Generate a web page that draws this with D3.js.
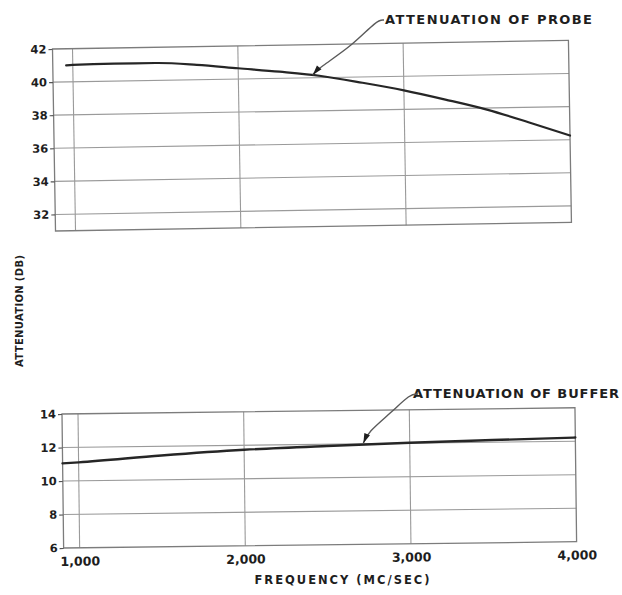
<!DOCTYPE html>
<html>
<head>
<meta charset="utf-8">
<script src="https://cdn.jsdelivr.net/npm/d3@7"></script>
<style>
  html, body { margin: 0; padding: 0; background: #fff; }
  svg text { font-family: "DejaVu Sans", "Liberation Sans", sans-serif; font-weight: bold; fill: #1e1e1e; }
</style>
</head>
<body>
<svg id="chart" width="622" height="595"></svg>
<script>
// Frequency axis (MC/SEC)
const freqTicks = [1000, 2000, 3000, 4000];
const freqLabels = ["1,000", "2,000", "3,000", "4,000"];

// Upper panel: attenuation of probe (DB)
const probeTicks = [32, 34, 36, 38, 40, 42];
const probeFreq = [960, 1000, 1250, 1500, 1750, 2000, 2250, 2500, 2750, 3000, 3250, 3500, 3750, 4000];
const probeDb   = [41.0, 41.02, 41.05, 41.05, 40.9, 40.65, 40.4, 40.1, 39.65, 39.15, 38.55, 37.9, 37.1, 36.25];

// Lower panel: attenuation of buffer (DB)
const bufferTicks = [6, 8, 10, 12, 14];
const bufferFreq = [903, 1000, 1500, 2000, 2500, 3000, 3500, 4000];
const bufferDb   = [11.05, 11.1, 11.45, 11.73, 11.9, 12.03, 12.13, 12.22];

const svg = d3.select("#chart");

function panel(opts) {
  const g = svg.append("g")
    .attr("transform", `translate(${opts.x},${opts.y}) rotate(${opts.tilt})`);
  const x = d3.scaleLinear().domain(opts.xDomain).range([0, opts.w]);
  const y = d3.scaleLinear().domain(opts.yDomain).range([opts.h, 0]);

  // grid
  g.append("g").selectAll("line")
    .data(freqTicks.filter(f => f < opts.xDomain[1]))
    .join("line")
    .attr("x1", d => x(d)).attr("x2", d => x(d))
    .attr("y1", 0).attr("y2", opts.h)
    .attr("stroke", "#9a9a9a").attr("stroke-width", 1.1);
  g.append("g").selectAll("line")
    .data(opts.yTicks.filter(t => t > opts.yDomain[0] && t < opts.yDomain[1]))
    .join("line")
    .attr("x1", 0).attr("x2", opts.w)
    .attr("y1", d => y(d)).attr("y2", d => y(d))
    .attr("stroke", "#9a9a9a").attr("stroke-width", 1.1);

  // frame
  g.append("rect")
    .attr("x", 0).attr("y", 0).attr("width", opts.w).attr("height", opts.h)
    .attr("fill", "none").attr("stroke", "#7c7c7c").attr("stroke-width", 1.3);

  // y axis
  const ay = g.append("g")
    .call(d3.axisLeft(y).tickValues(opts.yTicks).tickSize(4).tickSizeOuter(0).tickPadding(2));
  ay.select(".domain").remove();
  ay.selectAll(".tick line").attr("stroke", "#555").attr("stroke-width", 1.2);
  ay.selectAll(".tick text").style("font-size", "11.5px").attr("fill", "#1e1e1e");

  // data line
  const pts = opts.freq.map((f, i) => [f, opts.db[i]]);
  g.append("path")
    .datum(pts)
    .attr("fill", "none")
    .attr("stroke", "#262626")
    .attr("stroke-width", opts.lineW)
    .attr("stroke-linecap", "round")
    .attr("d", d3.line().x(d => x(d[0])).y(d => y(d[1])).curve(d3.curveMonotoneX));

  // page position of a (freq, db) point inside this tilted panel
  const toPage = (f, db) => {
    const a = opts.tilt * Math.PI / 180;
    const px = x(f), py = y(db);
    return [opts.x + px * Math.cos(a) - py * Math.sin(a),
            opts.y + px * Math.sin(a) + py * Math.cos(a)];
  };
  return { g, x, y, toPage };
}

const probePanel = panel({
  x: 52.5, y: 49, tilt: -0.95, w: 516, h: 182,
  xDomain: [879, 4000], yDomain: [31, 42], yTicks: probeTicks,
  freq: probeFreq, db: probeDb, lineW: 2.2
});

const bufferPanel = panel({
  x: 62, y: 414, tilt: -0.7, w: 513, h: 134,
  xDomain: [903.4, 4000], yDomain: [6, 14], yTicks: bufferTicks,
  freq: bufferFreq, db: bufferDb, lineW: 2.4
});

// frequency labels under the lower panel
const ax = bufferPanel.g.append("g")
  .attr("transform", `translate(0,${134})`)
  .call(d3.axisBottom(bufferPanel.x).tickValues(freqTicks)
    .tickFormat((d, i) => freqLabels[i]).tickSize(0).tickPadding(9));
ax.select(".domain").remove();
ax.selectAll(".tick text").style("font-size", "12.5px").attr("fill", "#1e1e1e");

// axis titles
svg.append("text")
  .attr("x", 342).attr("y", 584)
  .attr("text-anchor", "middle")
  .attr("textLength", 175).attr("lengthAdjust", "spacing")
  .style("font-size", "11.5px")
  .text("FREQUENCY  (MC/SEC)");

svg.append("text")
  .attr("transform", "translate(23,311) rotate(-90)")
  .attr("text-anchor", "middle")
  .attr("textLength", 112).attr("lengthAdjust", "spacing")
  .style("font-size", "10px")
  .text("ATTENUATION  (DB)");

// callouts with leader arrows
function callout(label, tx, ty, len, path) {
  svg.append("text")
    .attr("x", tx).attr("y", ty)
    .attr("textLength", len).attr("lengthAdjust", "spacing")
    .style("font-size", "13px")
    .text(label);
  svg.append("path")
    .attr("d", d3.line().curve(d3.curveBasis)(path))
    .attr("fill", "none").attr("stroke", "#5a5a5a").attr("stroke-width", 1.4);
  // arrowhead along the last leader segment
  const p = path[path.length - 1];
  const q = path[path.length - 2];
  const ang = Math.atan2(p[1] - q[1], p[0] - q[0]);
  const L = 10, Wd = 3;
  const bx = p[0] - L * Math.cos(ang), by = p[1] - L * Math.sin(ang);
  const nx = -Math.sin(ang) * Wd, ny = Math.cos(ang) * Wd;
  svg.append("path")
    .attr("d", `M${p[0]},${p[1]} L${bx + nx},${by + ny} L${bx - nx},${by - ny} Z`)
    .attr("fill", "#1e1e1e");
}

// probe callout points at the curve near 2,450 MC
const probeTip = probePanel.toPage(2450, 40.17);
callout("ATTENUATION OF PROBE", 385, 24, 207,
  [[384, 20], [377, 20], [352, 46], [probeTip[0] + 6, probeTip[1] - 7], probeTip]);

// buffer callout points at the curve near 2,720 MC
const bufTip = bufferPanel.toPage(2720, 11.97);
callout("ATTENUATION OF BUFFER", 413, 398, 206,
  [[418, 394], [410, 394], [392, 412], [368, 432], [bufTip[0], bufTip[1] - 1]]);
</script>
</body>
</html>
